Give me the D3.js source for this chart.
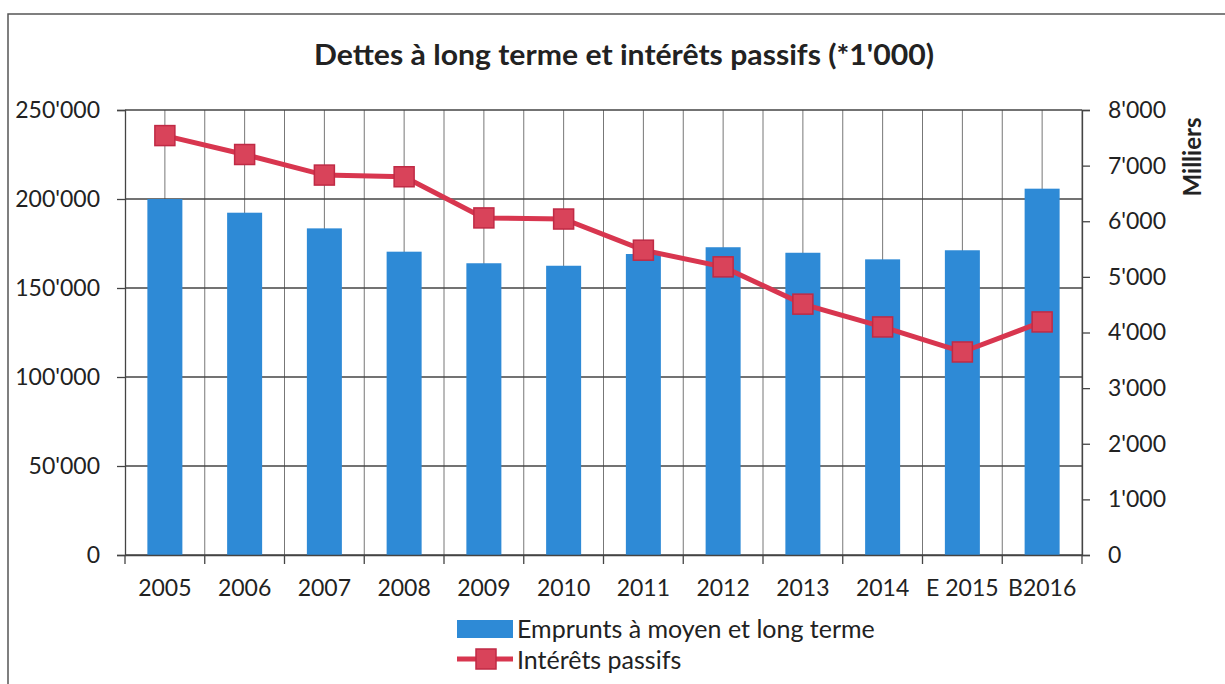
<!DOCTYPE html>
<html>
<head>
<meta charset="utf-8">
<script src="https://cdn.jsdelivr.net/npm/d3@7"></script>
<style>
  body { margin: 0; background: #fff; }
  svg text { font-family: Lato, "Open Sans", sans-serif; fill: #222; }
</style>
</head>
<body>
<svg id="chart" width="1225" height="684"></svg>
<script>
// data
var years = ["2005", "2006", "2007", "2008", "2009", "2010", "2011", "2012", "2013", "2014", "E 2015", "B2016"];
var emprunts = [200000, 192300, 183500, 170400, 163900, 162500, 169100, 172900, 169800, 166100, 171200, 205800];
var interets = [7540, 7200, 6830, 6800, 6060, 6040, 5480, 5180, 4510, 4100, 3650, 4190];
var leftTicks = [0, 50000, 100000, 150000, 200000, 250000];
var rightTicks = [0, 1000, 2000, 3000, 4000, 5000, 6000, 7000, 8000];

var svg = d3.select("#chart");
var plotL = 125, plotR = 1082, plotT = 110, plotB = 555;

// frame
svg.append("path")
    .attr("d", "M8,684 V14 H1225")
    .attr("fill", "none")
    .attr("stroke", "#555")
    .attr("stroke-width", 1.5);

var x = d3.scaleBand().domain(years).range([plotL, plotR]);
var yL = d3.scaleLinear().domain([0, 250000]).range([plotB, plotT]);
var yR = d3.scaleLinear().domain([0, 8000]).range([plotB, plotT]);

// apostrophe as thousands separator
var fmt = d3.formatLocale({decimal: ".", thousands: "'", grouping: [3], currency: ["", ""]}).format(",");

// vertical grid: category centres and boundaries
var vgrid = [];
years.forEach(function (d) {
    vgrid.push(x(d) + x.bandwidth() / 2);
    vgrid.push(x(d) + x.bandwidth());
});
svg.append("g").selectAll("line").data(vgrid).join("line")
    .attr("x1", d => d).attr("x2", d => d)
    .attr("y1", plotT).attr("y2", plotB)
    .attr("stroke", "#777").attr("stroke-width", 1);

// horizontal grid
svg.append("g").selectAll("line").data(leftTicks).join("line")
    .attr("x1", plotL).attr("x2", plotR)
    .attr("y1", d => yL(d)).attr("y2", d => yL(d))
    .attr("stroke", "#444").attr("stroke-width", 1.3);

// bars
var barW = 35;
svg.append("g").selectAll("rect").data(emprunts).join("rect")
    .attr("x", (d, i) => x(years[i]) + x.bandwidth() / 2 - barW / 2)
    .attr("width", barW)
    .attr("y", d => yL(d))
    .attr("height", d => plotB - yL(d))
    .attr("fill", "#2e8ad6");

// axes
var axL = svg.append("g").attr("transform", "translate(" + plotL + ",0)")
    .call(d3.axisLeft(yL).tickValues(leftTicks).tickFormat(fmt).tickSize(8).tickPadding(17));
var axR = svg.append("g").attr("transform", "translate(" + plotR + ",0)")
    .call(d3.axisRight(yR).tickValues(rightTicks).tickFormat(fmt).tickSize(8).tickPadding(18));
var axB = svg.append("g").attr("transform", "translate(0," + plotB + ")")
    .call(d3.axisBottom(x).tickSize(0).tickPadding(27));
// bottom tick marks at category boundaries
svg.append("g").selectAll("line").data([plotL].concat(years.map(d => x(d) + x.bandwidth()))).join("line")
    .attr("x1", d => d).attr("x2", d => d)
    .attr("y1", plotB).attr("y2", plotB + 9)
    .attr("stroke", "#444").attr("stroke-width", 1.3);

[axL, axR, axB].forEach(function (g) {
    g.select(".domain").attr("stroke", "#444").attr("stroke-width", 1.3);
    g.selectAll(".tick line").attr("stroke", "#444").attr("stroke-width", 1.3);
    g.selectAll(".tick text").style("font-size", "23px").attr("fill", "#222");
});
axB.selectAll(".tick text").attr("dy", "0.6em");

// line series
var lineGen = d3.line()
    .x((d, i) => x(years[i]) + x.bandwidth() / 2)
    .y(d => yR(d));
svg.append("path").datum(interets)
    .attr("d", lineGen)
    .attr("fill", "none")
    .attr("stroke", "#d8364f")
    .attr("stroke-width", 5);
var ms = 20;
svg.append("g").selectAll("rect").data(interets).join("rect")
    .attr("x", (d, i) => x(years[i]) + x.bandwidth() / 2 - ms / 2)
    .attr("y", d => yR(d) - ms / 2)
    .attr("width", ms).attr("height", ms)
    .attr("fill", "#d9435a")
    .attr("stroke", "#c02a45")
    .attr("stroke-width", 1.5);

// title
svg.append("text")
    .attr("x", 624).attr("y", 65)
    .attr("text-anchor", "middle")
    .attr("textLength", 620).attr("lengthAdjust", "spacingAndGlyphs")
    .style("font-size", "28px").style("font-weight", "bold")
    .text("Dettes à long terme et intérêts passifs (*1'000)");

// right axis title
svg.append("text")
    .attr("transform", "translate(1201,157) rotate(-90)")
    .attr("text-anchor", "middle")
    .style("font-size", "24px").style("font-weight", "bold")
    .text("Milliers");

// legend
var lg = svg.append("g");
lg.append("rect").attr("x", 457).attr("y", 620).attr("width", 56).attr("height", 18).attr("fill", "#2e8ad6");
lg.append("text").attr("x", 517).attr("y", 638).style("font-size", "25px").text("Emprunts à moyen et long terme");
lg.append("line").attr("x1", 457).attr("x2", 513).attr("y1", 659).attr("y2", 659)
    .attr("stroke", "#d8364f").attr("stroke-width", 5);
lg.append("rect").attr("x", 476).attr("y", 649).attr("width", 20).attr("height", 20)
    .attr("fill", "#d9435a").attr("stroke", "#c02a45").attr("stroke-width", 1.5);
lg.append("text").attr("x", 517).attr("y", 669).style("font-size", "25px").text("Intérêts passifs");
</script>
</body>
</html>
